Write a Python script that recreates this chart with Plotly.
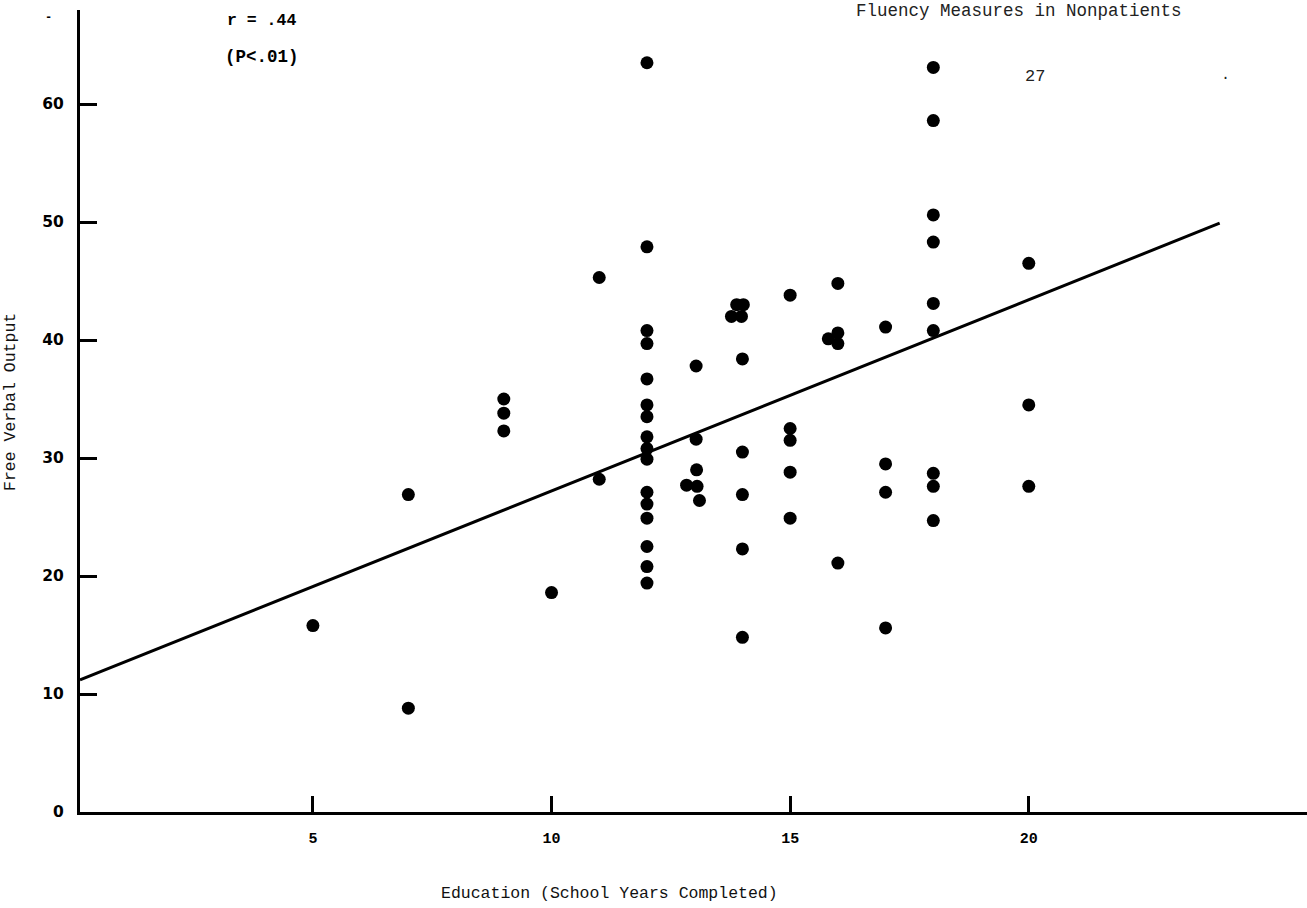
import plotly.graph_objects as go

# Education (school years completed) and free verbal output for each nonpatient
edu = [5,
       7, 7,
       9, 9, 9,
       10,
       11, 11,
       12, 12, 12, 12, 12, 12, 12, 12, 12, 12, 12, 12, 12, 12, 12, 12,
       12.83, 13.05, 13.04, 13.1, 13.03, 13.03,
       13.77, 13.88, 13.98, 14.02,
       14, 14, 14, 14, 14,
       15, 15, 15, 15, 15,
       15.8, 16, 16, 16, 16,
       17, 17, 17, 17,
       18, 18, 18, 18, 18, 18, 18, 18, 18,
       20, 20, 20]
fvo = [15.8,
       26.9, 8.8,
       35.0, 33.8, 32.3,
       18.6,
       45.3, 28.2,
       63.5, 47.9, 40.8, 39.7, 36.7, 34.5, 33.5, 31.8, 30.8, 29.9, 27.1, 26.1, 24.9, 22.5, 20.8, 19.4,
       27.7, 27.6, 29.0, 26.4, 37.8, 31.6,
       42.0, 43.0, 42.0, 43.0,
       38.4, 30.5, 26.9, 22.3, 14.8,
       43.8, 32.5, 31.5, 28.8, 24.9,
       40.1, 44.8, 40.6, 39.7, 21.1,
       41.1, 29.5, 27.1, 15.6,
       63.1, 58.6, 50.6, 48.3, 43.1, 40.8, 28.7, 27.6, 24.7,
       46.5, 34.5, 27.6]

# Regression line end points as drawn
line_x = [0.12, 24.0]
line_y = [11.2, 49.9]

x_ticks = [5, 10, 15, 20]
y_ticks = [0, 10, 20, 30, 40, 50, 60]

MONO = "Liberation Mono"

fig = go.Figure()
fig.add_trace(go.Scatter(x=line_x, y=line_y, mode="lines",
                         line=dict(color="black", width=3), hoverinfo="skip",
                         showlegend=False))
fig.add_trace(go.Scatter(x=edu, y=fvo, mode="markers",
                         marker=dict(color="black", size=13, line=dict(width=0)),
                         showlegend=False, cliponaxis=False))

fig.update_layout(
    width=1307, height=908,
    margin=dict(l=80, r=0, t=10, b=96),
    paper_bgcolor="white", plot_bgcolor="white",
    font=dict(family=MONO, color="black"),
    xaxis=dict(range=[0.12, 25.83], showgrid=False, zeroline=False,
               showline=True, linecolor="black", linewidth=3,
               ticks="inside", ticklen=16, tickwidth=2.5, tickcolor="black",
               tickvals=x_ticks, ticktext=[str(v) for v in x_ticks],
               tickfont=dict(family=MONO, size=15, weight="bold"),
               ticklabelstandoff=10),
    yaxis=dict(range=[0, 67.97], showgrid=False, zeroline=False,
               showline=True, linecolor="black", linewidth=3,
               ticks="inside", ticklen=17, tickwidth=2.5, tickcolor="black",
               tickvals=y_ticks, ticktext=[str(v) for v in y_ticks],
               tickfont=dict(family="DejaVu Sans", size=15.5, weight="bold"),
               ticklabelstandoff=10),
    annotations=[
        dict(text="Fluency Measures in Nonpatients", xref="paper", yref="paper",
             x=(1019 - 80) / 1227, y=(812 - 11) / 802, xanchor="center",
             yanchor="middle", showarrow=False,
             font=dict(family=MONO, size=17.5, color="#222")),
        dict(text="27", xref="paper", yref="paper",
             x=(1035 - 80) / 1227, y=(812 - 77) / 802, xanchor="center",
             yanchor="middle", showarrow=False,
             font=dict(family=MONO, size=17, color="#222")),
        dict(text=".", xref="paper", yref="paper",
             x=(1225 - 80) / 1227, y=(812 - 76) / 802, xanchor="center",
             yanchor="middle", showarrow=False,
             font=dict(family=MONO, size=15, color="#222")),
        dict(text="r = .44", xref="paper", yref="paper",
             x=(225 - 80) / 1227, y=(812 - 20) / 802, xanchor="left",
             yanchor="middle", showarrow=False,
             font=dict(family=MONO, size=16.5, weight="bold")),
        dict(text="(P<.01)", xref="paper", yref="paper",
             x=(223 - 80) / 1227, y=(812 - 57) / 802, xanchor="left",
             yanchor="middle", showarrow=False,
             font=dict(family=MONO, size=17.5, weight="bold")),
        dict(text="Free Verbal Output", xref="paper", yref="paper",
             x=(10 - 80) / 1227, y=(812 - 402) / 802, xanchor="center",
             yanchor="middle", textangle=-90, showarrow=False,
             font=dict(family=MONO, size=16.5, color="#111")),
        dict(text="Education (School Years Completed)", xref="paper", yref="paper",
             x=(609 - 80) / 1227, y=(812 - 893) / 802, xanchor="center",
             yanchor="middle", showarrow=False,
             font=dict(family=MONO, size=16.5, color="#111")),
        dict(text="-", xref="paper", yref="paper",
             x=(48 - 80) / 1227, y=(812 - 18) / 802, xanchor="center",
             yanchor="middle", showarrow=False,
             font=dict(family=MONO, size=12, weight="bold")),
    ],
)

fig.write_html("out.html")
